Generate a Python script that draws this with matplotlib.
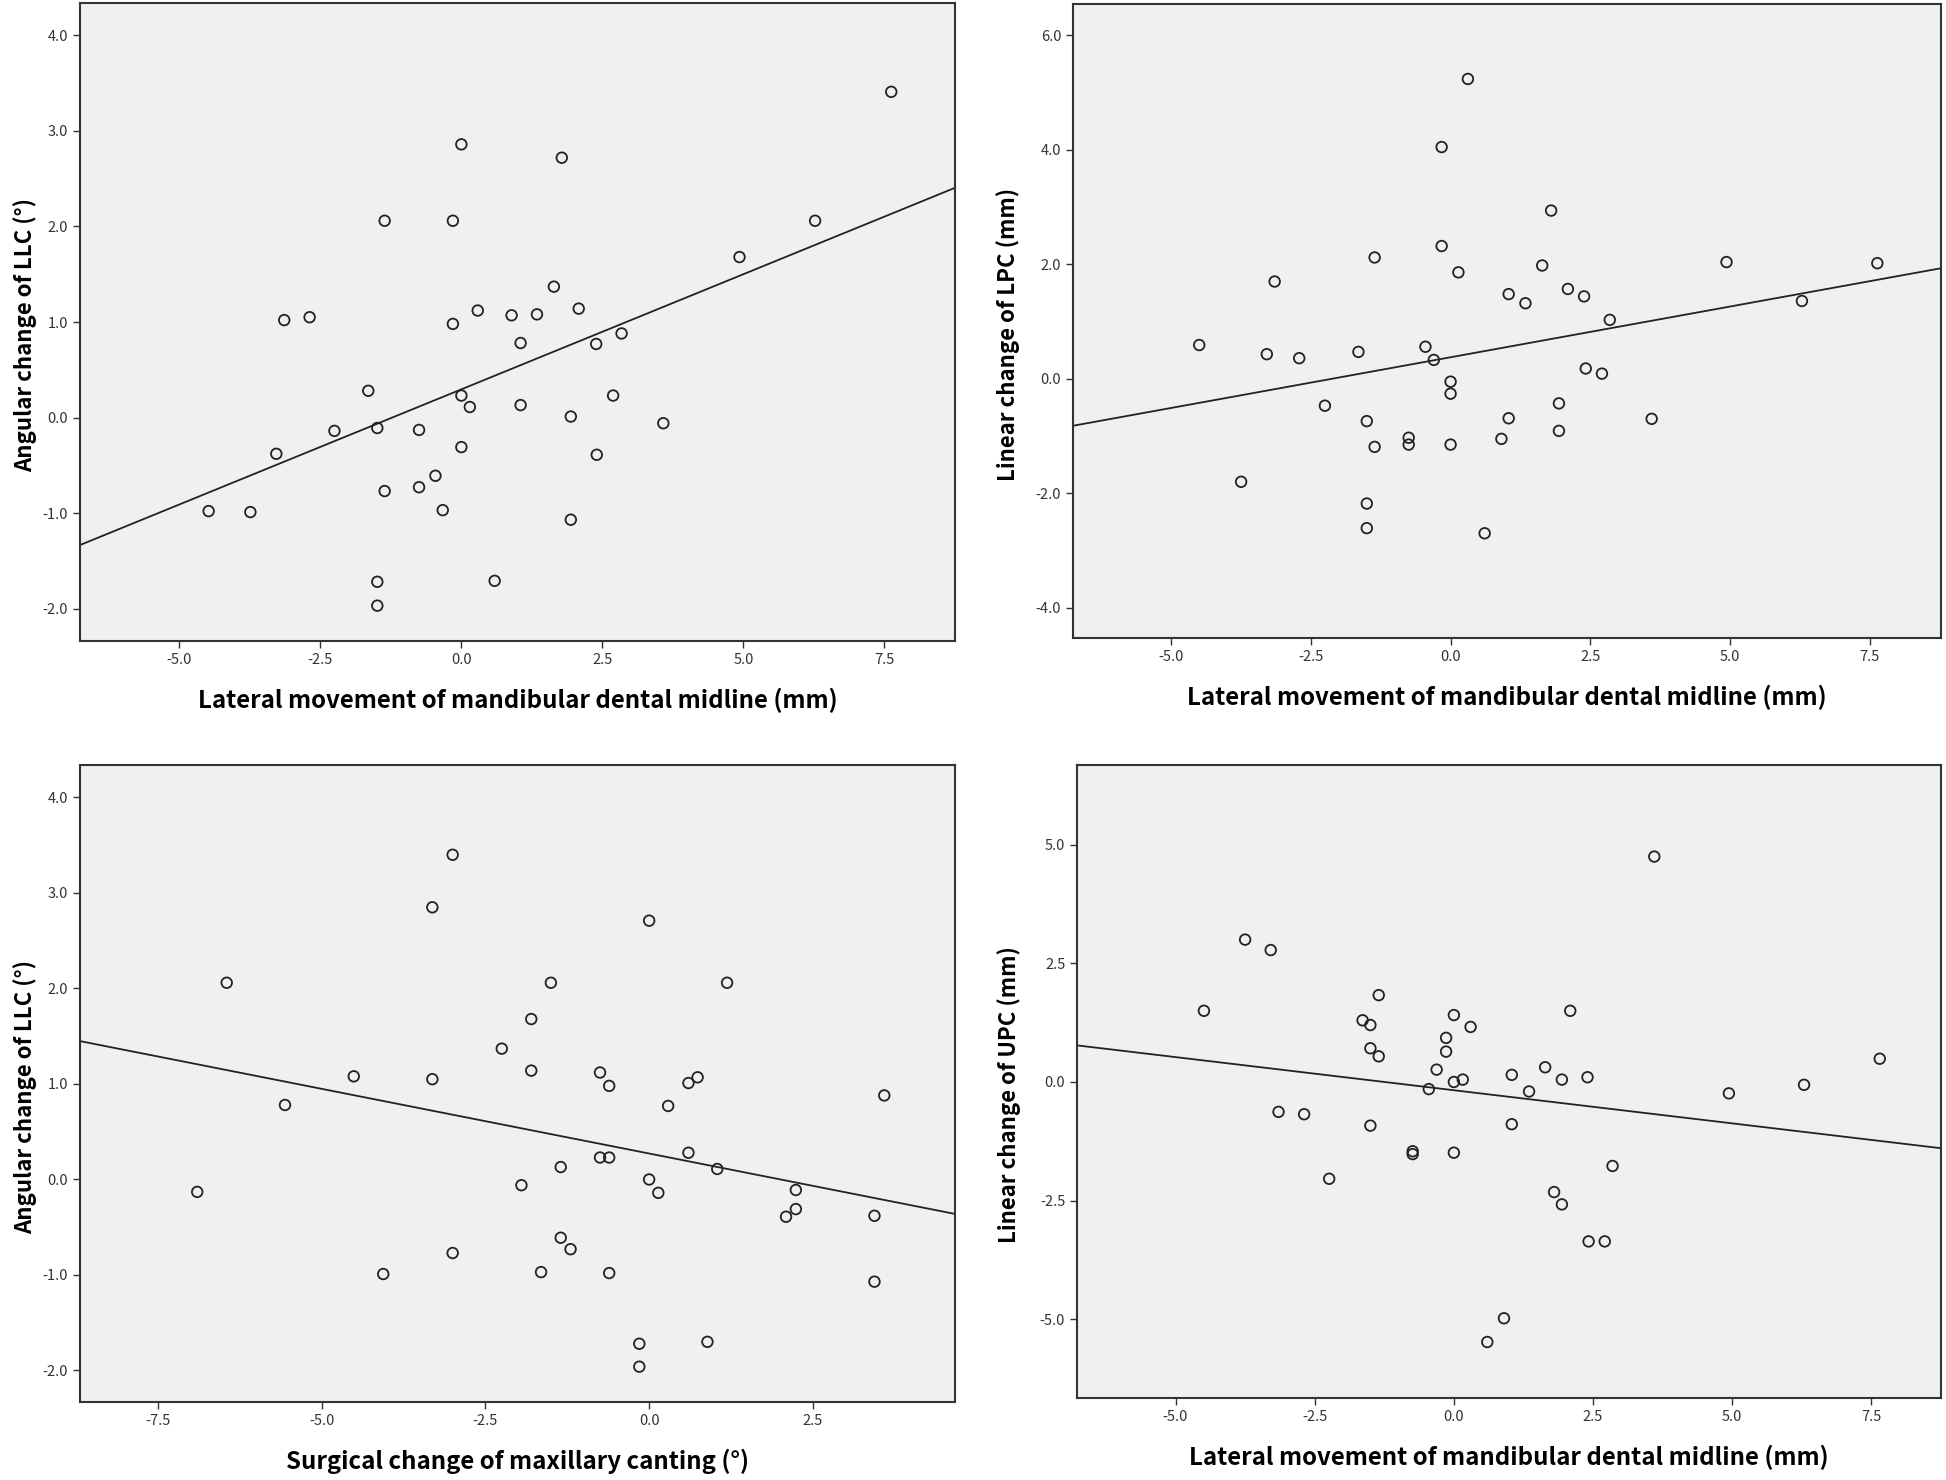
import matplotlib
matplotlib.use("Agg")
import matplotlib.pyplot as plt
import numpy as np

plt.rcParams['font.family'] = ['Noto Sans CJK KR', 'DejaVu Sans']
plt.rcParams['axes.unicode_minus'] = False

# panel A: midline movement vs angular change of LLC
a_x = [7.62, 0.00, 1.78, -1.36, -0.15, 6.27, 4.93, 1.64, 0.29, 0.89, 1.34, 2.08, -3.14, -2.69,
       -0.15, 1.05, 2.39, 2.84, -1.65, 0.00, 0.15, 1.05, 2.69, 1.94, 3.58, -2.25, -1.49, -0.75,
       0.00, -3.28, 2.40, -0.46, -0.75, -1.36, -0.33, -4.48, -3.74, 1.94, -1.49, 0.59, -1.49]
a_y = [3.41, 2.86, 2.72, 2.06, 2.06, 2.06, 1.68, 1.37, 1.12, 1.07, 1.08, 1.14, 1.02, 1.05,
       0.98, 0.78, 0.77, 0.88, 0.28, 0.23, 0.11, 0.13, 0.23, 0.01, -0.06, -0.14, -0.11, -0.13,
       -0.31, -0.38, -0.39, -0.61, -0.73, -0.77, -0.97, -0.98, -0.99, -1.07, -1.72, -1.71, -1.97]

# panel B: midline movement vs linear change of LPC
b_x = [0.31, -0.16, 1.80, -0.16, -1.36, 0.14, 1.64, 4.94, 7.64, -3.15, 2.10, 1.04, 2.39, 1.34,
       6.29, 2.85, -4.50, -0.45, -3.29, -1.65, -2.71, -0.30, 2.42, 2.71, 0.00, 0.00, -2.25, 1.94,
       -1.50, 1.04, 3.60, 1.94, -0.75, -0.75, -1.36, 0.00, 0.91, -3.75, -1.50, -1.50, 0.61]
b_y = [5.24, 4.05, 2.94, 2.32, 2.12, 1.86, 1.98, 2.04, 2.02, 1.70, 1.57, 1.48, 1.44, 1.32,
       1.36, 1.03, 0.59, 0.56, 0.43, 0.47, 0.36, 0.33, 0.18, 0.09, -0.05, -0.26, -0.47, -0.43,
       -0.74, -0.69, -0.70, -0.91, -1.03, -1.15, -1.19, -1.15, -1.05, -1.80, -2.18, -2.61, -2.70]

# panel C: maxillary canting vs angular change of LLC
c_x = [-3.00, -3.31, 0.00, -6.45, -1.50, 1.19, -1.80, -2.25, -1.80, -0.75, -4.51, -3.31, -0.61,
       0.60, 0.74, 3.59, -5.56, 0.29, 0.60, -0.75, -0.61, -1.35, 1.04, 0.00, -1.95, 0.14, -6.90,
       2.24, 2.24, 2.09, 3.44, -1.35, -1.20, -3.00, -4.06, -1.65, -0.61, 3.44, -0.15, 0.89, -0.15]
c_y = [3.40, 2.85, 2.71, 2.06, 2.06, 2.06, 1.68, 1.37, 1.14, 1.12, 1.08, 1.05, 0.98,
       1.01, 1.07, 0.88, 0.78, 0.77, 0.28, 0.23, 0.23, 0.13, 0.11, 0.00, -0.06, -0.14, -0.13,
       -0.11, -0.31, -0.39, -0.38, -0.61, -0.73, -0.77, -0.99, -0.97, -0.98, -1.07, -1.72, -1.70, -1.96]

# panel D: midline movement vs linear change of UPC
d_x = [3.60, -3.75, -3.29, -4.49, -1.35, 2.09, -1.64, -1.50, 0.00, 0.30, -0.14, -0.14, -1.50,
       -1.35, 7.65, -0.31, 1.64, 1.04, 1.94, 2.40, 0.00, 0.16, -0.45, 1.35, 4.94, 6.29, -3.15,
       -2.69, -1.50, 1.04, -0.74, -0.74, 0.00, -2.24, 2.85, 1.80, 1.94, 2.42, 2.71, 0.90, 0.60]
d_y = [4.75, 3.00, 2.78, 1.50, 1.83, 1.50, 1.30, 1.20, 1.41, 1.16, 0.93, 0.64, 0.71,
       0.54, 0.49, 0.26, 0.31, 0.15, 0.05, 0.10, 0.00, 0.05, -0.15, -0.20, -0.24, -0.06, -0.63,
       -0.68, -0.92, -0.89, -1.46, -1.52, -1.49, -2.04, -1.77, -2.32, -2.58, -3.36, -3.36, -4.98, -5.48]

x_mid_label = "Lateral movement of mandibular dental midline (mm)"
x_cant_label = "Surgical change of maxillary canting (°)"

W, H = 1946, 1480
fig = plt.figure(figsize=(W / 100, H / 100), dpi=100)
fig.patch.set_facecolor('white')

# (left, right, top, bottom) in pixels, then ylabel x-offset in pixels
panels = [
    (a_x, a_y, (80, 955, 3, 641), 55, (-6.76, 8.75), (-2.34, 4.34),
     [-5, -2.5, 0, 2.5, 5, 7.5], [-2, -1, 0, 1, 2, 3, 4], x_mid_label, "Angular change of LLC (°)"),
    (b_x, b_y, (1073, 1941, 4, 638), 65, (-6.76, 8.78), (-4.53, 6.55),
     [-5, -2.5, 0, 2.5, 5, 7.5], [-4, -2, 0, 2, 4, 6], x_mid_label, "Linear change of LPC (mm)"),
    (c_x, c_y, (80, 955, 765, 1402), 55, (-8.69, 4.67), (-2.33, 4.34),
     [-7.5, -5, -2.5, 0, 2.5], [-2, -1, 0, 1, 2, 3, 4], x_cant_label, "Angular change of LLC (°)"),
    (d_x, d_y, (1077, 1941, 765, 1398), 68, (-6.77, 8.75), (-6.66, 6.68),
     [-5, -2.5, 0, 2.5, 5, 7.5], [-5, -2.5, 0, 2.5, 5], x_mid_label, "Linear change of UPC (mm)"),
]

for xs, ys, box, yoff, xlim, ylim, xt, yt, xl, yl in panels:
    l, r, t, b = box
    w_px, h_px = r - l, b - t
    ax = fig.add_axes([l / W, 1 - b / H, w_px / W, h_px / H])
    ax.set_facecolor('#f0f0f0')
    xs = np.array(xs)
    ys = np.array(ys)
    ax.scatter(xs, ys, s=58, facecolors='none', edgecolors='#222222', linewidths=1.3, zorder=3)
    k, c0 = np.polyfit(xs, ys, 1)
    lx = np.array(xlim)
    ax.plot(lx, k * lx + c0, color='#222222', lw=1.3, zorder=2)
    ax.set_xlim(xlim)
    ax.set_ylim(ylim)
    ax.set_xticks(xt)
    ax.set_yticks(yt)
    ax.set_xticklabels([f"{v:.1f}" for v in xt])
    ax.set_yticklabels([f"{v:.1f}" for v in yt])
    ax.tick_params(direction='out', length=5, width=1, colors='#333333', labelsize=10.5,
                   top=False, right=False)
    for s in ax.spines.values():
        s.set_linewidth(1.5)
        s.set_color('#333333')
    ax.set_xlabel(xl, fontsize=17.3, fontweight='bold', va='center')
    ax.xaxis.set_label_coords(0.5, -59 / h_px)
    ax.set_ylabel(yl, fontsize=16, fontweight='bold', va='center')
    ax.yaxis.set_label_coords(-yoff / w_px, 0.5 - 13 / h_px)

fig.savefig("out.png", dpi=100)
